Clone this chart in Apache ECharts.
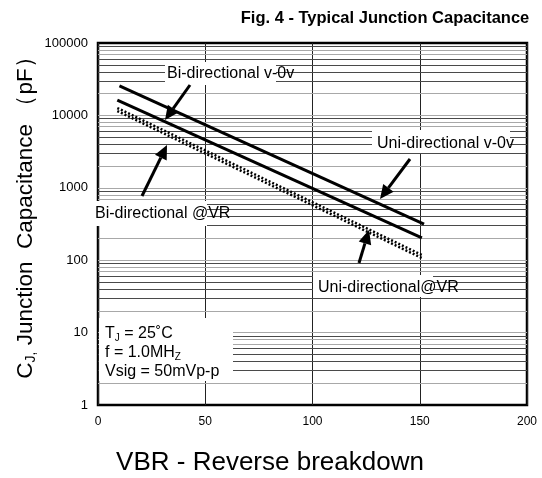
<!DOCTYPE html>
<html><head><meta charset="utf-8">
<script src="https://cdn.jsdelivr.net/npm/echarts@6/dist/echarts.min.js"></script>
<style>html,body{margin:0;padding:0;background:#fff}#c{width:542px;height:478px}</style>
</head><body><div id="c"></div>
<script>
// ---- data ----
const xTicks = [0, 50, 100, 150, 200];
const yTicks = [1, 10, 100, 1000, 10000, 100000];
const uniV0 = [[10, 25500], [152, 316]];      // Uni-directional v-0v
const biV0  = [[9, 16300], [151, 203]];       // Bi-directional v-0v
const biVR  = [[9, 12650], [151, 118]];       // Bi-directional @VR
const uniVR = [[9, 11500], [151, 107]];       // Uni-directional@VR
const decades = [1, 10, 100, 1000, 10000];
const multipliers = [1, 2, 3, 4, 5, 6, 7, 8, 9];
const lightMult = { 1: true, 2: true, 7: true, 8: true };

const FONT = '"Liberation Sans", Arial, sans-serif';
const chart = echarts.init(document.getElementById('c'), null, { renderer: 'canvas' });

// gridlines (log minor grid)
const gridLines = [];
decades.forEach(d => multipliers.forEach(m => {
  const v = d * m;
  if (v === 1) return;
  gridLines.push({ yAxis: v, lineStyle: { color: lightMult[m] ? '#a8a8a8' : '#4a4a4a', width: 1, type: 'solid' } });
}));

function arrow(x1, y1, x2, y2) {
  const ang = Math.atan2(y2 - y1, x2 - x1);
  const L = 14, W = 6.5;
  const bx = x2 - L * Math.cos(ang), by = y2 - L * Math.sin(ang);
  const px = -Math.sin(ang), py = Math.cos(ang);
  return [
    { type: 'line', z: 120, shape: { x1: x1, y1: y1, x2: bx, y2: by }, style: { stroke: '#000', lineWidth: 3 } },
    { type: 'polygon', z: 120, shape: { points: [[x2, y2], [bx + px * W, by + py * W], [bx - px * W, by - py * W]] }, style: { fill: '#000' } }
  ];
}

const whiteRects = [
  [165, 62, 111, 23],
  [372, 130, 138, 23],
  [93, 201, 114, 25],
  [313, 275, 120, 22],
  [99, 318, 134, 63]
].map(r => ({ type: 'rect', z: 110, shape: { x: r[0], y: r[1], width: r[2], height: r[3] }, style: { fill: '#fff' } }));

function label(txt, x, y) {
  return { type: 'text', z: 130, x: x, y: y, style: { text: txt, font: '16px ' + FONT, fill: '#000', textVerticalAlign: 'middle', textAlign: 'left' } };
}

const graphics = [].concat(
  whiteRects,
  [
    label('Bi-directional v-0v', 167, 74),
    label('Uni-directional v-0v', 377, 144),
    label('Bi-directional @VR', 95, 214),
    label('Uni-directional@VR', 318, 288),
    {
      type: 'text', z: 130, x: 105, y: 324,
      style: {
        text: 'T{s|J} = 25˚C\nf = 1.0MH{s|Z}\nVsig = 50mVp-p',
        font: '16px ' + FONT, fill: '#000', lineHeight: 19,
        rich: { s: { fontSize: 10, fontFamily: FONT, verticalAlign: 'bottom', padding: [8, 0, 0, 0], lineHeight: 19 } }
      }
    },
    {
      type: 'text', z: 130, x: 385, y: 18,
      style: { text: 'Fig. 4 - Typical Junction Capacitance', font: 'bold 16.5px ' + FONT, fill: '#000', textAlign: 'center', textVerticalAlign: 'middle' }
    },
    {
      type: 'text', z: 130, x: 270, y: 463,
      style: { text: 'VBR - Reverse breakdown', font: '26px ' + FONT, fill: '#000', textAlign: 'center', textVerticalAlign: 'middle' }
    },
    {
      type: 'text', z: 130, x: 26, y: 212, rotation: Math.PI / 2,
      style: {
        text: '{a|C}{s|J,} Junction  Capacitance （pF）',
        font: '22.5px ' + FONT, fill: '#000', textAlign: 'center', textVerticalAlign: 'middle',
        rich: { a: { fontSize: 22.5, fontFamily: FONT }, s: { fontSize: 14, fontFamily: FONT, padding: [11, 0, 0, 0] } }
      }
    }
  ],
  arrow(190, 85, 165, 120),
  arrow(410, 159, 380, 199),
  arrow(142, 196, 167, 145),
  arrow(359, 263, 369, 230)
);

chart.setOption({
  animation: false,
  backgroundColor: '#fff',
  grid: { left: 98, top: 43, width: 429, height: 362, show: true, borderColor: '#000', borderWidth: 2.5, backgroundColor: 'transparent' },
  xAxis: {
    type: 'value', min: xTicks[0], max: xTicks[xTicks.length - 1], interval: 50,
    axisLine: { show: false }, axisTick: { show: false },
    axisLabel: { color: '#000', fontSize: 12, fontFamily: FONT, margin: 11 },
    splitLine: { show: true, lineStyle: { color: '#222', width: 1 } }
  },
  yAxis: {
    type: 'log', logBase: 10, min: yTicks[0], max: yTicks[yTicks.length - 1],
    axisLine: { show: false }, axisTick: { show: false },
    axisLabel: { color: '#000', fontSize: 13, fontFamily: FONT, margin: 10, formatter: v => String(Math.round(v)) },
    splitLine: { show: false }
  },
  series: [
    { type: 'line', data: [], silent: true, z: 1,
      markLine: { silent: true, symbol: 'none', label: { show: false }, data: gridLines, animation: false } },
    { type: 'line', name: 'Uni-directional v-0v', data: uniV0, symbol: 'none', z: 5, lineStyle: { color: '#000', width: 3 } },
    { type: 'line', name: 'Bi-directional v-0v', data: biV0, symbol: 'none', z: 5, lineStyle: { color: '#000', width: 3 } },
    { type: 'line', name: 'Bi-directional @VR', data: biVR, symbol: 'none', z: 5, lineStyle: { color: '#000', width: 2.5, type: [2, 2] } },
    { type: 'line', name: 'Uni-directional@VR', data: uniVR, symbol: 'none', z: 5, lineStyle: { color: '#000', width: 2.5, type: [2, 2] } }
  ],
  graphic: graphics
});
</script></body></html>
